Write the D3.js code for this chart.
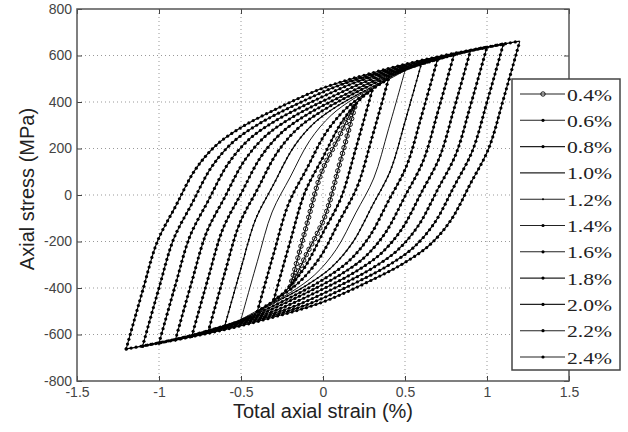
<!DOCTYPE html>
<html lang="en">
<head>
<meta charset="utf-8">
<title></title>
<script src="https://cdn.jsdelivr.net/npm/d3@7"></script>
<style>
body { margin: 0; background: #fff; }
.tick text { font-family: "Liberation Sans", Arial, sans-serif; font-size: 14px; fill: #444; }
</style>
</head>
<body>
<script>
// size of the page and the plot box
var w = 628, h = 432;
var boxL = 77, boxR = 569, boxT = 9, boxB = 381;

// legend names, one per strain range
var names = ["0.4%", "0.6%", "0.8%", "1.0%", "1.2%", "1.4%", "1.6%", "1.8%", "2.0%", "2.2%", "2.4%"];

// [strain %, stress MPa], upper branch then lower branch
var up04 = [[-0.2,-395],[-0.1,-130],[-0.01,95],[0.1,254],[0.15,328],[0.2,395]];
var lo04 = [[-0.2,-395],[-0.15,-328],[-0.1,-254],[0.01,-95],[0.1,130],[0.2,395]];
var up06 = [[-0.3,-450],[-0.2,-200],[-0.11,12],[0.0,162],[0.12,320],[0.25,427],[0.3,450]];
var lo06 = [[-0.3,-450],[-0.25,-427],[-0.12,-320],[0.0,-162],[0.11,-12],[0.2,200],[0.3,450]];
var up08 = [[-0.4,-500],[-0.3,-250],[-0.21,-38],[-0.1,112],[0.02,270],[0.15,378],[0.3,455],[0.4,500]];
var lo08 = [[-0.4,-500],[-0.3,-455],[-0.15,-378],[-0.02,-270],[0.1,-112],[0.21,38],[0.3,250],[0.4,500]];
var up10 = [[-0.5,-535],[-0.4,-285],[-0.31,-73],[-0.2,77],[-0.08,235],[0.05,343],[0.2,420],[0.4,497],[0.5,535]];
var lo10 = [[-0.5,-535],[-0.4,-497],[-0.2,-420],[-0.05,-343],[0.08,-235],[0.2,-77],[0.31,73],[0.4,285],[0.5,535]];
var up12 = [[-0.6,-565],[-0.5,-315],[-0.41,-103],[-0.3,47],[-0.18,205],[-0.05,312],[0.1,388],[0.3,465],[0.45,520],[0.6,565]];
var lo12 = [[-0.6,-565],[-0.45,-520],[-0.3,-465],[-0.1,-388],[0.05,-312],[0.18,-205],[0.3,-47],[0.41,103],[0.5,315],[0.6,565]];
var up14 = [[-0.7,-588],[-0.6,-338],[-0.51,-126],[-0.4,24],[-0.28,182],[-0.15,289],[0.0,364],[0.2,441],[0.5,540],[0.7,588]];
var lo14 = [[-0.7,-588],[-0.5,-540],[-0.2,-441],[0.0,-364],[0.15,-289],[0.28,-182],[0.4,-24],[0.51,126],[0.6,338],[0.7,588]];
var up16 = [[-0.8,-607],[-0.7,-357],[-0.61,-145],[-0.5,5],[-0.38,163],[-0.25,270],[-0.1,345],[0.1,420],[0.4,517],[0.7,584],[0.8,607]];
var lo16 = [[-0.8,-607],[-0.7,-584],[-0.4,-517],[-0.1,-420],[0.1,-345],[0.25,-270],[0.38,-163],[0.5,-5],[0.61,145],[0.7,357],[0.8,607]];
var up18 = [[-0.9,-623],[-0.8,-373],[-0.71,-161],[-0.6,-11],[-0.48,147],[-0.35,254],[-0.2,329],[0.0,404],[0.3,499],[0.6,564],[0.9,623]];
var lo18 = [[-0.9,-623],[-0.6,-564],[-0.3,-499],[0.0,-404],[0.2,-329],[0.35,-254],[0.48,-147],[0.6,11],[0.71,161],[0.8,373],[0.9,623]];
var up20 = [[-1.0,-637],[-0.9,-387],[-0.81,-175],[-0.7,-25],[-0.58,133],[-0.45,240],[-0.3,315],[-0.1,390],[0.2,485],[0.5,550],[0.8,604],[1.0,637]];
var lo20 = [[-1.0,-637],[-0.8,-604],[-0.5,-550],[-0.2,-485],[0.1,-390],[0.3,-315],[0.45,-240],[0.58,-133],[0.7,25],[0.81,175],[0.9,387],[1.0,637]];
var up22 = [[-1.1,-650],[-1.0,-400],[-0.91,-188],[-0.8,-38],[-0.68,120],[-0.55,227],[-0.4,302],[-0.2,377],[0.1,472],[0.4,537],[0.7,591],[1.0,635],[1.1,650]];
var lo22 = [[-1.1,-650],[-1.0,-635],[-0.7,-591],[-0.4,-537],[-0.1,-472],[0.2,-377],[0.4,-302],[0.55,-227],[0.68,-120],[0.8,38],[0.91,188],[1.0,400],[1.1,650]];
var up24 = [[-1.2,-662],[-1.1,-412],[-1.01,-200],[-0.9,-50],[-0.78,108],[-0.65,215],[-0.5,290],[-0.3,365],[0,460],[0.3,525],[0.6,579],[0.9,623],[1.2,662]];
var lo24 = [[-1.2,-662],[-0.9,-623],[-0.6,-579],[-0.3,-525],[0,-460],[0.3,-365],[0.5,-290],[0.65,-215],[0.78,-108],[0.9,50],[1.01,200],[1.1,412],[1.2,662]];

var xTicks = [-1.5, -1, -0.5, 0, 0.5, 1, 1.5];
var yTicks = [-800, -600, -400, -200, 0, 200, 400, 600, 800];

// marker look for each series (matlab-ish)
var markers = ["ring", "dot", "dot", "none", "small", "dot", "dot", "dot", "dot", "dot", "dot"];

var loops = [
    [up04, lo04], [up06, lo06], [up08, lo08], [up10, lo10], [up12, lo12], [up14, lo14],
    [up16, lo16], [up18, lo18], [up20, lo20], [up22, lo22], [up24, lo24]
];

var svg = d3.select("body").append("svg")
    .attr("width", w)
    .attr("height", h);

var xScale = d3.scaleLinear().domain([-1.5, 1.5]).range([boxL, boxR]);
var yScale = d3.scaleLinear().domain([-800, 800]).range([boxB, boxT]);

// dotted grid
svg.append("g").selectAll("line").data(xTicks.slice(1, -1)).enter().append("line")
    .attr("x1", d => xScale(d)).attr("x2", d => xScale(d))
    .attr("y1", boxT).attr("y2", boxB)
    .attr("stroke", "#999").attr("stroke-width", 1).attr("stroke-dasharray", "1,3");
svg.append("g").selectAll("line").data(yTicks.slice(1, -1)).enter().append("line")
    .attr("y1", d => yScale(d)).attr("y2", d => yScale(d))
    .attr("x1", boxL).attr("x2", boxR)
    .attr("stroke", "#999").attr("stroke-width", 1).attr("stroke-dasharray", "1,3");

// axes, ticks pointing in (plain hyphen for negatives, like the original)
var plain = d => String(d);
var xAxis = d3.axisBottom(xScale).tickValues(xTicks).tickSize(-5).tickPadding(6).tickFormat(plain);
var yAxis = d3.axisLeft(yScale).tickValues(yTicks).tickSize(-5).tickPadding(5).tickFormat(plain);
var gx = svg.append("g").attr("transform", "translate(0," + boxB + ")").call(xAxis);
var gy = svg.append("g").attr("transform", "translate(" + boxL + ",0)").call(yAxis);
var gt = svg.append("g").attr("transform", "translate(0," + boxT + ")")
    .call(d3.axisTop(xScale).tickValues(xTicks).tickSize(-5).tickFormat(""));
var gr = svg.append("g").attr("transform", "translate(" + boxR + ",0)")
    .call(d3.axisRight(yScale).tickValues(yTicks).tickSize(-5).tickFormat(""));
[gx, gy, gt, gr].forEach(function(g) {
    g.select(".domain").remove();
    g.selectAll(".tick line").attr("stroke", "#444");
});

// loops
var line = d3.line()
    .x(d => xScale(d[0]))
    .y(d => yScale(d[1]))
    .curve(d3.curveCatmullRom.alpha(0.5));

var plot = svg.append("g");

function addMarks(g, node, kind) {
    if (kind == "none") return;
    var len = node.getTotalLength();
    var step = kind == "ring" ? 6 : 5;
    for (var s = 0; s <= len; s += step) {
        var p = node.getPointAtLength(s);
        drawMark(g, p.x, p.y, kind);
    }
}

function drawMark(g, x, y, kind) {
    if (kind == "ring") {
        g.append("circle").attr("cx", x).attr("cy", y).attr("r", 2.2)
            .attr("fill", "none").attr("stroke", "#111").attr("stroke-width", 1);
    } else {
        g.append("circle").attr("cx", x).attr("cy", y)
            .attr("r", kind == "small" ? 1 : 1.6).attr("fill", "#000");
    }
}

loops.forEach(function(loop, i) {
    var g = plot.append("g");
    loop.forEach(function(branch) {
        var path = g.append("path")
            .attr("d", line(branch))
            .attr("fill", "none")
            .attr("stroke", "#000")
            .attr("stroke-width", markers[i] == "none" ? 0.9 : 1.1);
        addMarks(g, path.node(), markers[i]);
    });
});

// frame
svg.append("rect")
    .attr("x", boxL).attr("y", boxT)
    .attr("width", boxR - boxL).attr("height", boxB - boxT)
    .attr("fill", "none").attr("stroke", "#555").attr("stroke-width", 1.5);

// axis titles
svg.append("text")
    .attr("x", (boxL + boxR) / 2)
    .attr("y", 418)
    .attr("text-anchor", "middle")
    .style("font-family", "Liberation Sans, Arial, sans-serif")
    .style("font-size", "20px")
    .style("fill", "#222")
    .text("Total axial strain (%)");

svg.append("text")
    .attr("transform", "translate(34,189) rotate(-90)")
    .attr("text-anchor", "middle")
    .style("font-family", "Liberation Sans, Arial, sans-serif")
    .style("font-size", "20px")
    .style("fill", "#222")
    .text("Axial stress (MPa)");

// legend
var lg = svg.append("g");
lg.append("rect")
    .attr("x", 512).attr("y", 79)
    .attr("width", 108).attr("height", 291)
    .attr("fill", "#fff").attr("stroke", "#444").attr("stroke-width", 1.5);

var rowY = d3.scalePoint().domain(names).range([94, 357]);

names.forEach(function(n, i) {
    var y = rowY(n);
    lg.append("line")
        .attr("x1", 520).attr("x2", 565)
        .attr("y1", y).attr("y2", y)
        .attr("stroke", "#222").attr("stroke-width", 1.1);
    if (markers[i] != "none") drawMark(lg, 543, y, markers[i]);
    lg.append("text")
        .attr("x", 567).attr("y", y + 6.5)
        .attr("textLength", 45).attr("lengthAdjust", "spacingAndGlyphs")
        .style("font-family", "Liberation Serif, Times New Roman, serif")
        .style("font-size", "17px")
        .style("fill", "#222")
        .text(n);
});
</script>
</body>
</html>
